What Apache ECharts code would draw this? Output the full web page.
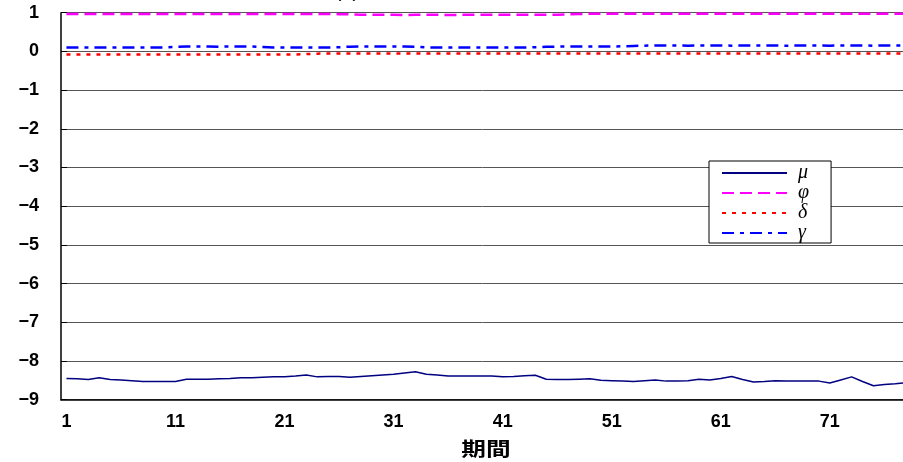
<!DOCTYPE html>
<html>
<head>
<meta charset="utf-8">
<script src="https://cdn.jsdelivr.net/npm/echarts@6/dist/echarts.min.js"></script>
<style>
  html, body { margin: 0; padding: 0; background: #fff; }
  #chart { width: 903px; height: 462px; }
</style>
</head>
<body>
<div id="chart"></div>
<script>
// 期間 1..78 (the picture is cut at the right edge)
var periods = Array.from({ length: 78 }, function (_, i) { return String(i + 1); });

var yTicks = [-9, -8, -7, -6, -5, -4, -3, -2, -1, 0, 1];

var seriesNames = ['μ', 'φ', 'δ', 'γ'];

var mu = [
  -8.45, -8.46, -8.48, -8.43, -8.48, -8.49, -8.51, -8.53, -8.53, -8.53,
  -8.53, -8.47, -8.47, -8.47, -8.46, -8.45, -8.43, -8.43, -8.42, -8.41,
  -8.41, -8.39, -8.36, -8.41, -8.40, -8.40, -8.42, -8.40, -8.38, -8.36,
  -8.34, -8.31, -8.28, -8.34, -8.36, -8.39, -8.39, -8.39, -8.39, -8.39,
  -8.41, -8.40, -8.38, -8.37, -8.47, -8.48, -8.48, -8.47, -8.46, -8.50,
  -8.51, -8.52, -8.53, -8.51, -8.49, -8.52, -8.52, -8.51, -8.47, -8.49,
  -8.45, -8.40, -8.48, -8.54, -8.53, -8.51, -8.52, -8.52, -8.52, -8.52,
  -8.57, -8.49, -8.41, -8.53, -8.64, -8.61, -8.59, -8.56
];

var phi = [
  0.965, 0.966, 0.967, 0.966, 0.965, 0.966, 0.967, 0.966, 0.966, 0.965,
  0.966, 0.967, 0.966, 0.965, 0.966, 0.967, 0.966, 0.966, 0.965, 0.966,
  0.967, 0.966, 0.965, 0.966, 0.966, 0.963, 0.958, 0.948, 0.945, 0.944,
  0.944, 0.943, 0.944, 0.945, 0.944, 0.943, 0.944, 0.945, 0.944, 0.945,
  0.946, 0.945, 0.946, 0.945, 0.947, 0.950, 0.958, 0.968, 0.972, 0.973,
  0.972, 0.973, 0.974, 0.973, 0.972, 0.973, 0.974, 0.973, 0.972, 0.973,
  0.974, 0.973, 0.972, 0.973, 0.974, 0.973, 0.973, 0.972, 0.973, 0.974,
  0.973, 0.972, 0.973, 0.974, 0.973, 0.972, 0.973, 0.973
];

var delta = [
  -0.079, -0.080, -0.081, -0.080, -0.079, -0.080, -0.081, -0.080, -0.079, -0.080,
  -0.081, -0.080, -0.079, -0.080, -0.080, -0.081, -0.080, -0.079, -0.080, -0.081,
  -0.080, -0.078, -0.070, -0.058, -0.055, -0.054, -0.055, -0.056, -0.055, -0.054,
  -0.055, -0.056, -0.055, -0.054, -0.055, -0.055, -0.056, -0.055, -0.054, -0.055,
  -0.056, -0.055, -0.054, -0.055, -0.055, -0.056, -0.055, -0.054, -0.055, -0.056,
  -0.055, -0.054, -0.055, -0.055, -0.056, -0.055, -0.054, -0.055, -0.056, -0.055,
  -0.054, -0.055, -0.055, -0.056, -0.055, -0.054, -0.055, -0.056, -0.055, -0.054,
  -0.055, -0.055, -0.056, -0.055, -0.054, -0.055, -0.057, -0.058
];

var gamma = [
  0.100, 0.098, 0.101, 0.099, 0.100, 0.102, 0.099, 0.100, 0.101, 0.104,
  0.118, 0.124, 0.126, 0.125, 0.123, 0.125, 0.126, 0.124, 0.115, 0.102,
  0.099, 0.100, 0.101, 0.099, 0.100, 0.108, 0.122, 0.125, 0.126, 0.124,
  0.125, 0.126, 0.120, 0.104, 0.100, 0.099, 0.100, 0.101, 0.099, 0.100,
  0.101, 0.100, 0.102, 0.108, 0.118, 0.124, 0.125, 0.126, 0.124, 0.125,
  0.127, 0.132, 0.142, 0.149, 0.150, 0.151, 0.150, 0.149, 0.150, 0.151,
  0.150, 0.149, 0.150, 0.151, 0.150, 0.150, 0.149, 0.150, 0.151, 0.150,
  0.149, 0.150, 0.151, 0.150, 0.149, 0.150, 0.151, 0.150
];

var chart = echarts.init(document.getElementById('chart'), null, { renderer: 'canvas' });

var labelFont = {
  color: '#000',
  fontFamily: 'Liberation Sans',
  fontWeight: 'bold',
  fontSize: 18
};

var option = {
  animation: false,
  backgroundColor: '#fff',
  graphic: [
    {
      type: 'text',
      x: 347,
      y: 1,
      style: {
        text: '(a)',
        textAlign: 'center',
        textVerticalAlign: 'bottom',
        font: '20px "Liberation Sans"',
        fill: '#000'
      }
    },
    {
      type: 'text',
      x: 486,
      y: 449,
      scaleX: 1.3,
      style: {
        text: '期間',
        textAlign: 'center',
        textVerticalAlign: 'middle',
        font: 'bold 19px "Noto Sans CJK JP"',
        fill: '#000'
      }
    }
  ],
  grid: {
    left: 61,
    top: 12.7,
    right: -8.6,
    bottom: 62.3,
    containLabel: false,
    outerBoundsMode: 'none'
  },
  legend: {
    orient: 'vertical',
    left: 709,
    top: 161,
    data: seriesNames,
    itemWidth: 65,
    itemHeight: 20,
    itemGap: 0,
    padding: [2, 22, 0, 12],
    borderColor: '#000',
    borderWidth: 1,
    backgroundColor: '#fff',
    itemStyle: { color: 'rgba(0,0,0,0)', borderWidth: 0, opacity: 0 },
    textStyle: {
      fontFamily: 'Liberation Serif',
      fontStyle: 'italic',
      fontSize: 20,
      lineHeight: 20,
      color: '#000',
      padding: [0, 0, 0, 6]
    }
  },
  xAxis: {
    type: 'category',
    data: periods,
    boundaryGap: true,
    axisLine: { onZero: false, lineStyle: { color: '#000', width: 1.5 } },
    axisTick: { inside: true, length: 6, interval: 9, lineStyle: { color: '#000' } },
    axisLabel: Object.assign({ interval: 9, margin: 13 }, labelFont),
    splitLine: { show: false }
  },
  yAxis: {
    type: 'value',
    min: yTicks[0],
    max: yTicks[yTicks.length - 1],
    interval: 1,
    axisLine: { show: true, lineStyle: { color: '#000', width: 1.5 } },
    axisTick: { show: true, inside: true, length: 6, lineStyle: { color: '#000' } },
    axisLabel: Object.assign({
      margin: 22,
      formatter: function (v) { return String(v).replace('-', '\u2212'); }
    }, labelFont),
    splitLine: { lineStyle: { color: '#555', width: 1 } }
  },
  series: [
    {
      name: seriesNames[0],
      type: 'line',
      data: mu,
      symbol: 'none',
      lineStyle: { color: '#000080', width: 1.5 },
      itemStyle: { color: '#000080' }
    },
    {
      name: seriesNames[1],
      type: 'line',
      data: phi,
      symbol: 'none',
      lineStyle: { color: '#ff00ff', width: 2.5, type: [12, 6] },
      itemStyle: { color: '#ff00ff' }
    },
    {
      name: seriesNames[2],
      type: 'line',
      data: delta,
      symbol: 'none',
      lineStyle: { color: '#ff0000', width: 2.5, type: [4, 6] },
      itemStyle: { color: '#ff0000' }
    },
    {
      name: seriesNames[3],
      type: 'line',
      data: gamma,
      symbol: 'none',
      lineStyle: { color: '#0000ff', width: 2.5, type: [12, 6, 4, 6] },
      itemStyle: { color: '#0000ff' }
    }
  ]
};

chart.setOption(option);
</script>
</body>
</html>
